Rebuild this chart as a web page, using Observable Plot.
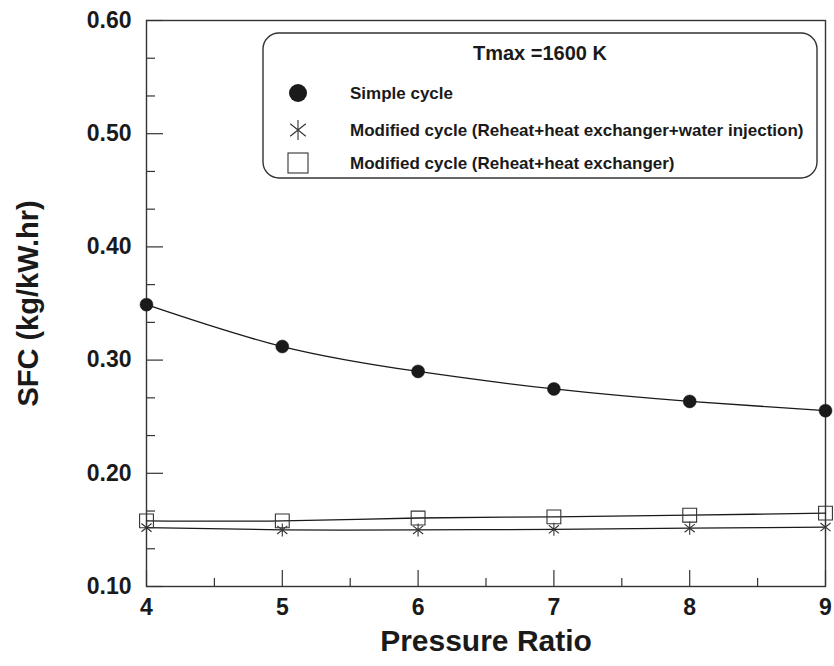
<!DOCTYPE html>
<html>
<head>
<meta charset="utf-8">
<script src="https://cdn.jsdelivr.net/npm/d3@7"></script>
<script src="https://cdn.jsdelivr.net/npm/@observablehq/plot@0.6"></script>
<style>
  html, body { margin: 0; padding: 0; background: #fff; }
  #chart { width: 834px; height: 666px; }
</style>
</head>
<body>
<div id="chart"></div>
<script>
// ---- data ----
const pressureRatio = [4, 5, 6, 7, 8, 9];
const sfcSimple = [0.349, 0.312, 0.290, 0.2745, 0.2635, 0.2553];
const sfcReheatHxWater = [0.152, 0.150, 0.150, 0.1505, 0.1515, 0.1525];
const sfcReheatHx = [0.158, 0.158, 0.1605, 0.1615, 0.163, 0.1648];

const seriesNames = [
  "Simple cycle",
  "Modified cycle (Reheat+heat exchanger+water injection)",
  "Modified cycle (Reheat+heat exchanger)"
];
const legendTitle = "Tmax =1600 K";
const xLabel = "Pressure Ratio";
const yLabel = "SFC (kg/kW.hr)";

const xMajor = [4, 5, 6, 7, 8, 9];
const xMinor = [4.5, 5.5, 6.5, 7.5, 8.5];
const yMajor = [0.10, 0.20, 0.30, 0.40, 0.50, 0.60];
const yMinor = [0.1 + 1/30, 0.1 + 2/30, 0.2 + 1/30, 0.2 + 2/30, 0.3 + 1/30, 0.3 + 2/30,
                0.4 + 1/30, 0.4 + 2/30, 0.5 + 1/30, 0.5 + 2/30];

// ---- table ----
const simple = pressureRatio.map((x, i) => ({x, y: sfcSimple[i]}));
const water = pressureRatio.map((x, i) => ({x, y: sfcReheatHxWater[i]}));
const hx = pressureRatio.map((x, i) => ({x, y: sfcReheatHx[i]}));

// custom asterisk (vertical + two diagonals)
const starSymbol = {
  draw(ctx, size) {
    const r = Math.sqrt(size / Math.PI);
    const sx = r * 0.78, sy = r * 0.63;
    ctx.moveTo(0, -r); ctx.lineTo(0, r);
    ctx.moveTo(-sx, -sy); ctx.lineTo(sx, sy);
    ctx.moveTo(-sx, sy); ctx.lineTo(sx, -sy);
  }
};

const font = "Liberation Sans, Arial, Helvetica, sans-serif";
const ink = "#1a1a1a";

const svg = Plot.plot({
  width: 834,
  height: 666,
  marginLeft: 146,
  marginRight: 9,
  marginTop: 20,
  marginBottom: 80,
  style: {fontFamily: font, background: "#fff", color: ink},
  x: {domain: [4, 9]},
  y: {domain: [0.1, 0.6]},
  marks: [
    Plot.frame({stroke: "#333", strokeWidth: 1.4}),
    // ticks (inside)
    Plot.axisX({ticks: xMajor, tickSize: -16, tickFormat: () => "", label: null, stroke: "#333", strokeWidth: 1.2}),
    Plot.axisX({ticks: xMinor, tickSize: -8, tickFormat: () => "", label: null, stroke: "#333", strokeWidth: 1.2}),
    Plot.axisY({ticks: yMajor, tickSize: -17, tickFormat: () => "", label: null, stroke: "#333", strokeWidth: 1.2}),
    Plot.axisY({ticks: yMinor, tickSize: -9, tickFormat: () => "", label: null, stroke: "#333", strokeWidth: 1.2}),
    // tick labels
    Plot.axisX({ticks: xMajor, tickSize: 0, tickPadding: 12, tickFormat: d => String(d), label: null,
      fontSize: 23, fontWeight: "bold", fill: ink}),
    Plot.axisY({ticks: yMajor, tickSize: 0, tickPadding: 15, tickFormat: d3.format(".2f"), label: null,
      fontSize: 23, fontWeight: "bold", fill: ink}),
    // axis titles
    Plot.text([xLabel], {frameAnchor: "bottom", dy: 55, lineAnchor: "middle", textAnchor: "middle",
      fontSize: 30, fontWeight: "bold", fill: ink}),
    Plot.text([yLabel], {frameAnchor: "left", dx: -118, rotate: -90, lineAnchor: "middle", textAnchor: "middle",
      fontSize: 29, fontWeight: "bold", fill: ink}),
    // lines
    Plot.line(simple, {x: "x", y: "y", curve: "natural", stroke: ink, strokeWidth: 1.3}),
    Plot.line(water, {x: "x", y: "y", curve: "natural", stroke: ink, strokeWidth: 1.3}),
    Plot.line(hx, {x: "x", y: "y", curve: "natural", stroke: ink, strokeWidth: 1.3}),
    // markers
    Plot.dot(simple, {x: "x", y: "y", r: 6.5, fill: ink, stroke: ink, strokeWidth: 0.5}),
    Plot.dot(hx, {x: "x", y: "y", symbol: "square", r: 7.8, fill: "none", stroke: "#333", strokeWidth: 1.1}),
    Plot.dot(water, {x: "x", y: "y", symbol: starSymbol, r: 6.5, fill: "none", stroke: "#333", strokeWidth: 1.1})
  ]
});

document.getElementById("chart").appendChild(svg);

// ---- legend box inside the plot ----
const g = d3.select(svg).append("g")
  .attr("font-family", font).attr("font-weight", "bold").attr("fill", ink)
  .attr("text-anchor", "start");
g.append("rect")
  .attr("x", 263).attr("y", 33).attr("width", 554).attr("height", 145)
  .attr("rx", 16).attr("ry", 16)
  .attr("fill", "#fff").attr("stroke", "#333").attr("stroke-width", 1.4);
g.append("text").attr("x", 540).attr("y", 53).attr("dy", "0.35em")
  .attr("text-anchor", "middle").attr("font-size", 20).text(legendTitle);

const rows = [93, 130, 163];
const symX = 298, textX = 350;
g.append("circle").attr("cx", symX).attr("cy", rows[0]).attr("r", 9).attr("fill", ink);
{
  const r = 10, sx = r * 0.78, sy = r * 0.63;
  g.append("path")
    .attr("d", `M${symX},${rows[1] - r}L${symX},${rows[1] + r}M${symX - sx},${rows[1] - sy}L${symX + sx},${rows[1] + sy}M${symX - sx},${rows[1] + sy}L${symX + sx},${rows[1] - sy}`)
    .attr("fill", "none").attr("stroke", "#333").attr("stroke-width", 1.1);
}
g.append("rect").attr("x", symX - 10).attr("y", rows[2] - 10).attr("width", 20).attr("height", 20)
  .attr("fill", "none").attr("stroke", "#333").attr("stroke-width", 1.1);

seriesNames.forEach((name, i) => {
  g.append("text").attr("x", textX).attr("y", rows[i]).attr("dy", "0.35em")
    .attr("text-anchor", "start").attr("font-size", 17).text(name);
});
</script>
</body>
</html>
